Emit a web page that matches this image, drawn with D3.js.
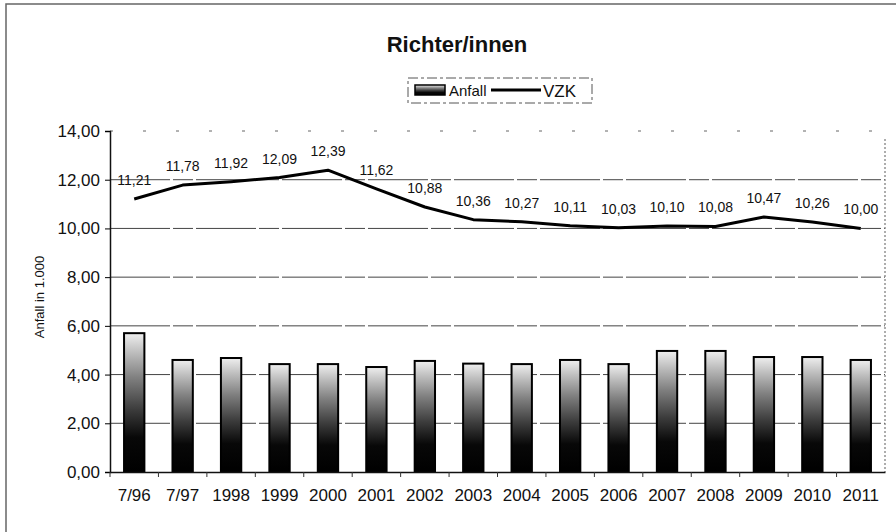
<!DOCTYPE html>
<html><head><meta charset="utf-8">
<script src="https://cdn.jsdelivr.net/npm/d3@7"></script>
<style>body{margin:0;background:#fff}svg{display:block}text{font-family:Arial,"Liberation Sans",sans-serif;fill:#111}</style>
</head><body><svg id="c" width="896" height="532"></svg>
<script>
const categories = ["7/96","7/97","1998","1999","2000","2001","2002","2003","2004","2005","2006","2007","2008","2009","2010","2011"];
const anfall = [5.70,4.60,4.68,4.43,4.43,4.31,4.56,4.45,4.43,4.60,4.43,4.97,4.97,4.72,4.72,4.60];
const vzk = [11.21,11.78,11.92,12.09,12.39,11.62,10.88,10.36,10.27,10.11,10.03,10.10,10.08,10.47,10.26,10.00];
const yTicks = [0,2,4,6,8,10,12,14];
const title = "Richter/innen";
const yLabel = "Anfall in 1.000";

const svg = d3.select("#c");
const fmt = v => d3.format(".2f")(v).replace(".", ",");
const L = 110, R = 885, T = 131, B = 472;
const x = d3.scaleBand().domain(categories).range([L, R]).paddingInner(0.58).paddingOuter(0.29);
const xb = d3.scaleBand().domain(categories).range([L, R]);
const y = d3.scaleLinear().domain([0, 14]).range([B, T]);

// outer frame
svg.append("rect").attr("x", 6).attr("y", 4).attr("width", 900).attr("height", 540)
  .attr("fill", "none").attr("stroke", "#666").attr("stroke-width", 1.5);

const defs = svg.append("defs");
const g = defs.append("linearGradient").attr("id", "bg").attr("x1", 0).attr("y1", 1).attr("x2", 0).attr("y2", 0);
[[0,"#000"],[0.25,"#080808"],[0.45,"#3c3c3c"],[0.68,"#808080"],[0.86,"#bdbdbd"],[1,"#efefef"]]
  .forEach(([o,c]) => g.append("stop").attr("offset", o).attr("stop-color", c));

// gridlines
svg.append("g").selectAll("line").data(yTicks.filter(t => t > 0 && t < 14)).join("line")
  .attr("x1", L).attr("x2", R).attr("y1", d => y(d)).attr("y2", d => y(d))
  .attr("stroke", "#444").attr("stroke-width", 1).attr("stroke-dasharray", "60,3,20,3");
svg.append("line").attr("x1", L).attr("x2", R).attr("y1", y(14)).attr("y2", y(14))
  .attr("stroke", "#666").attr("stroke-width", 1).attr("stroke-dasharray", "3,30");
svg.append("line").attr("x1", R).attr("x2", R).attr("y1", y(14) + 8).attr("y2", B)
  .attr("stroke", "#777").attr("stroke-width", 1.2).attr("stroke-dasharray", "2,2");

// bars
svg.append("g").selectAll("rect").data(categories).join("rect")
  .attr("x", d => x(d)).attr("width", x.bandwidth())
  .attr("y", (d, i) => y(anfall[i])).attr("height", (d, i) => B - y(anfall[i]))
  .attr("fill", "url(#bg)").attr("stroke", "#000").attr("stroke-width", 2);

// axes
const yAxis = d3.axisLeft(y).tickValues(yTicks).tickFormat(fmt).tickSize(5).tickPadding(5);
const ya = svg.append("g").attr("transform", `translate(${L},0)`).call(yAxis);
ya.select(".domain").attr("stroke", "#111").attr("stroke-width", 1.5);
ya.selectAll("text").style("font-size", "17px").attr("fill", "#111");

const xa = svg.append("g").attr("transform", `translate(0,${B})`)
  .call(d3.axisBottom(xb).tickSize(0).tickPadding(17));
xa.select(".domain").attr("stroke", "#111").attr("stroke-width", 1.5);
xa.selectAll("text").style("font-size", "17px").attr("fill", "#111");
svg.append("g").selectAll("line").data(categories).join("line")
  .attr("x1", d => xb(d)).attr("x2", d => xb(d)).attr("y1", B).attr("y2", B + 5)
  .attr("stroke", "#333").attr("stroke-width", 1);

// line
const line = d3.line().x((d, i) => x(categories[i]) + x.bandwidth() / 2).y(d => y(d));
svg.append("path").datum(vzk).attr("d", line).attr("fill", "none")
  .attr("stroke", "#000").attr("stroke-width", 3).attr("stroke-linejoin", "round");
svg.append("g").selectAll("text").data(vzk).join("text")
  .attr("x", (d, i) => x(categories[i]) + x.bandwidth() / 2)
  .attr("y", d => y(d) - 14).attr("text-anchor", "middle")
  .style("font-size", "14px").text(d => fmt(d));

// title
svg.append("text").attr("x", 457).attr("y", 52).attr("text-anchor", "middle")
  .style("font-size", "22px").style("font-weight", "bold").text(title);

// y label
svg.append("text").attr("transform", "translate(44,297) rotate(-90)").attr("text-anchor", "middle")
  .style("font-size", "13px").text(yLabel);

// legend
const lg = svg.append("g");
lg.append("rect").attr("x", 408).attr("y", 78).attr("width", 184).attr("height", 25)
  .attr("fill", "none").attr("stroke", "#555").attr("stroke-width", 1).attr("stroke-dasharray", "10,3,3,3");
lg.append("rect").attr("x", 415).attr("y", 85).attr("width", 30).attr("height", 10)
  .attr("fill", "url(#bg)").attr("stroke", "#000").attr("stroke-width", 1.5);
lg.append("text").attr("x", 449).attr("y", 96).style("font-size", "15px").text("Anfall");
lg.append("line").attr("x1", 491).attr("x2", 541).attr("y1", 90).attr("y2", 90)
  .attr("stroke", "#000").attr("stroke-width", 3);
lg.append("text").attr("x", 543).attr("y", 97).style("font-size", "17px").text("VZK");
</script></body></html>
